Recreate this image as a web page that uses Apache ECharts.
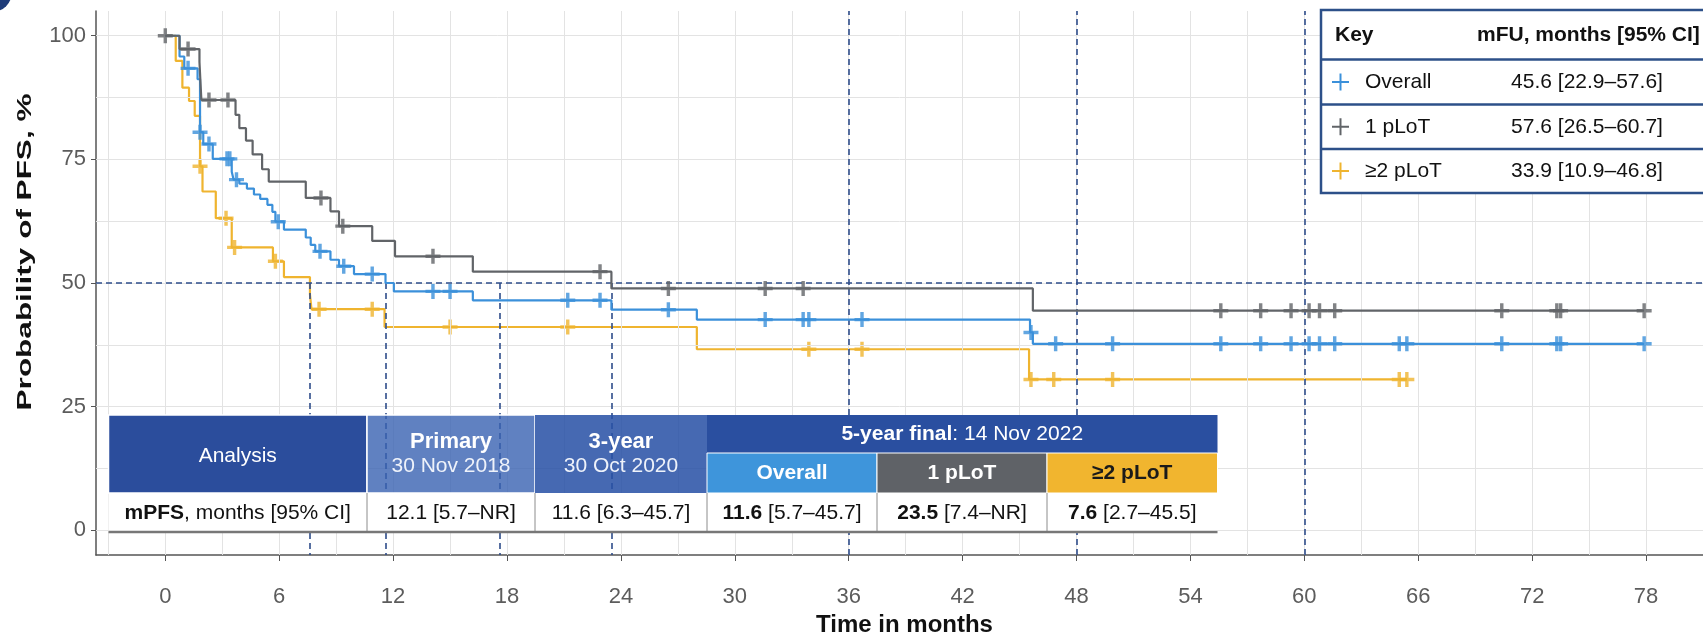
<!DOCTYPE html>
<html><head><meta charset="utf-8">
<script src="https://cdn.jsdelivr.net/npm/echarts@6/dist/echarts.min.js"></script>
<style>html,body{margin:0;padding:0;background:#fff}#c{width:1703px;height:642px}</style>
</head><body><div id="c"></div>
<script>
// ---------------- DATA ----------------
const xTicks = [0, 6, 12, 18, 24, 30, 36, 42, 48, 54, 60, 66, 72, 78];
const yTicks = [0, 25, 50, 75, 100];

// 1 pLoT (grey)
const grayTimes = [0, 0.75, 1.8, 1.9, 3.7, 3.9, 4.25, 4.6, 5.1, 5.45, 7.4, 8.7, 9.15, 10.9, 12.1, 16.2, 23.5, 45.7];
const graySurv  = [100, 97.3, 94.7, 87.0, 84.0, 81.3, 78.8, 76.0, 73.0, 70.5, 67.2, 64.5, 61.5, 58.5, 55.4, 52.3, 48.9, 44.4];
const grayCensor = [0, 1.2, 2.3, 3.3, 8.2, 9.35, 14.1, 22.9, 26.5, 31.6, 33.6, 55.6, 57.7, 59.3, 60.25, 60.8, 61.6, 70.4, 73.3, 73.5, 77.9];

// Overall (blue)
const blueTimes = [0, 0.75, 1.0, 1.7, 1.83, 2.0, 2.5, 3.5, 3.6, 3.9, 4.3, 4.67, 5.0, 5.38, 5.64, 5.8, 6.25, 7.4, 7.66, 7.9, 8.7, 9.15, 9.94, 11.6, 12.04, 16.2, 23.5, 28.0, 45.55, 45.7];
const blueSurv  = [100, 95.8, 93.4, 91.2, 80.5, 78.1, 75.1, 72.5, 70.9, 70.1, 69.1, 67.9, 67.0, 65.8, 64.4, 62.4, 60.8, 59.2, 57.7, 56.4, 54.7, 53.4, 51.8, 50.0, 48.3, 46.5, 44.6, 42.6, 40.0, 37.7];
const blueCensor = [1.2, 1.83, 2.3, 3.25, 3.4, 3.75, 5.95, 8.15, 9.4, 10.9, 14.1, 15.0, 21.2, 22.9, 26.5, 31.6, 33.6, 33.9, 36.7, 45.6, 46.9, 49.9, 55.6, 57.7, 59.3, 60.25, 60.8, 61.6, 65.0, 65.4, 70.4, 73.3, 73.5, 77.9];

// >=2 pLoT (yellow)
const yellowTimes = [0, 0.55, 0.9, 1.25, 1.55, 1.83, 1.96, 2.66, 3.5, 5.67, 6.25, 7.62, 7.7, 11.55, 28.0, 45.5];
const yellowSurv  = [100, 94.9, 89.5, 86.8, 83.8, 73.6, 68.5, 63.1, 57.2, 54.4, 51.2, 47.7, 44.7, 41.1, 36.6, 30.5];
const yellowCensor = [1.83, 3.2, 3.65, 5.8, 8.1, 10.9, 15.0, 21.2, 33.9, 36.7, 45.6, 46.8, 49.9, 65.0, 65.4];

// reference lines
const refY = [50];
const refX = [36, 48, 60];
const medianX = [7.6, 11.6, 17.6, 23.5];

// legend
const legendNames = ['Overall', '1 pLoT', '\u22652 pLoT'];
const legendMFU = ['45.6 [22.9\u201357.6]', '57.6 [26.5\u201360.7]', '33.9 [10.9\u201346.8]'];

// table
const tableDataRow = ['{b|mPFS}, months [95% CI]', '12.1 [5.7\u2013NR]', '11.6 [6.3\u201345.7]', '{b|11.6} [5.7\u201345.7]', '{b|23.5} [7.4\u2013NR]', '{b|7.6} [2.7\u201345.5]'];

// ---------------- STYLE ----------------
const FONT = '"Liberation Sans", Arial, Helvetica, sans-serif';
const C_GRAY = '#616468', C_BLUE = '#3b90da', C_YEL = '#efb42f';
const DASH = '#2e4d8a';
const PLUS = 'path://M-1.6,-7H1.6V-1.6H7V1.6H1.6V7H-1.6V1.6H-7V-1.6H-1.6Z';

function survAt(times, surv, t) {
  let s = surv[0];
  for (let i = 0; i < times.length; i++) if (times[i] <= t + 1e-9) s = surv[i];
  return s;
}
function kmLine(times, surv, cens) {
  const d = times.map((t, i) => [t, surv[i]]);
  const last = Math.max(...cens);
  if (last > times[times.length - 1]) d.push([last, surv[surv.length - 1]]);
  return d;
}
function censPts(times, surv, cens) { return cens.map(t => [t, survAt(times, surv, t)]); }

// grid lines (every 3 months / 12.5 %)
const xGrid = []; for (let v = -3; v <= 81; v += 3) xGrid.push(v);
const yGrid = []; for (let v = 0; v <= 100; v += 12.5) yGrid.push(v);

const chart = echarts.init(document.getElementById('c'), null, {renderer: 'canvas'});

// ---------------- TABLE GRAPHIC ----------------
const cols = [108.5, 367, 535, 707, 877, 1047, 1217.5];
const rows = [415, 453, 493, 532];
const G = [];
function rect(x0, y0, x1, y1, fill, stroke, lw) {
  G.push({type: 'rect', z: 100, shape: {x: x0, y: y0, width: x1 - x0, height: y1 - y0},
    style: {fill: fill, stroke: stroke || null, lineWidth: lw || 0}});
}
function txt(x, y, text, o) {
  o = o || {};
  const fs = o.fontSize || 21;
  G.push({type: 'text', z: 101, x: x, y: y, rotation: o.rotation || 0, scaleX: o.scaleX || 1,
    style: {
    text: text, x: 0, y: 0, align: o.align || 'center', verticalAlign: 'middle',
    fill: o.fill || '#111', fontSize: fs, fontFamily: FONT, fontWeight: o.bold ? 'bold' : 'normal',
    lineHeight: o.lineHeight || fs + 2,
    rich: {b: {fontWeight: 'bold', fontSize: o.bFontSize || fs, fontFamily: FONT, fill: o.bFill || o.fill || '#111', lineHeight: o.lineHeight || fs + 2}}
  }});
}
function line(x0, y0, x1, y1, stroke, lw) {
  G.push({type: 'line', z: 101, shape: {x1: x0, y1: y0, x2: x1, y2: y1}, style: {stroke: stroke, lineWidth: lw}});
}
// header
rect(cols[0], rows[0], cols[1], rows[2], '#2b4d9c', '#fff', 1.5);
rect(cols[1], rows[0], cols[2], rows[2], 'rgba(56,98,178,0.80)', '#fff', 1.5);
rect(cols[2], rows[0], cols[3], rows[2], 'rgba(40,80,165,0.86)', null, 0);
rect(cols[3], rows[0], cols[6], rows[1], '#2a4fa0', null, 0);
rect(cols[3], rows[1], cols[4], rows[2], '#3e95db', '#fff', 1);
rect(cols[4], rows[1], cols[5], rows[2], '#5f6267', '#fff', 1);
rect(cols[5], rows[1], cols[6], rows[2], '#f1b52f', '#fff', 1);
const mid = (a, b) => (a + b) / 2;
txt(mid(cols[0], cols[1]), mid(rows[0], rows[2]) + 2, 'Analysis', {fill: '#fff'});
txt(mid(cols[1], cols[2]), mid(rows[0], rows[2]), '{b|Primary}\n30 Nov 2018', {fill: '#eef2fa', bFill: '#fff', lineHeight: 25, bFontSize: 22});
txt(mid(cols[2], cols[3]), mid(rows[0], rows[2]), '{b|3-year}\n30 Oct 2020', {fill: '#eef2fa', bFill: '#fff', lineHeight: 25, bFontSize: 22});
txt(mid(cols[3], cols[6]), mid(rows[0], rows[1]), '{b|5-year final}: 14 Nov 2022', {fill: '#fff'});
txt(mid(cols[3], cols[4]), mid(rows[1], rows[2]), 'Overall', {fill: '#fff', bold: true});
txt(mid(cols[4], cols[5]), mid(rows[1], rows[2]), '1 pLoT', {fill: '#fff', bold: true});
txt(mid(cols[5], cols[6]), mid(rows[1], rows[2]), '\u22652 pLoT', {fill: '#1a1a1a', bold: true});
// data row
rect(cols[0], rows[2], cols[6], rows[3], '#ffffff', null, 0);
for (let i = 1; i < 6; i++) line(cols[i], rows[2], cols[i], rows[3], '#8c8c8c', 1);
line(cols[0], rows[3], cols[6], rows[3], '#777', 2.5);
tableDataRow.forEach((t, i) => txt(mid(cols[i], cols[i + 1]), mid(rows[2], rows[3]) + 1, t, {fill: '#111'}));

// legend box
const LX = 1321, LY = 10, LR = [10, 59.5, 104.5, 149, 193];
rect(LX, LY, 1760, LR[4], '#fff', '#2d5089', 2.5);
for (let i = 1; i < 4; i++) line(LX, LR[i], 1703, LR[i], '#2d5089', 2.5);
txt(1335, mid(LR[0], LR[1]), 'Key', {align: 'left', bold: true});
txt(1477, mid(LR[0], LR[1]), 'mFU, months [95% CI]', {align: 'left', bold: true});
const legCols = [C_BLUE, C_GRAY, C_YEL];
legendNames.forEach((n, i) => {
  const cy = mid(LR[i + 1], LR[i + 2]);
  line(1332, cy, 1349, cy, legCols[i], 2);
  line(1340.5, cy - 8.5, 1340.5, cy + 8.5, legCols[i], 2);
  txt(1365, cy, n, {align: 'left'});
  txt(1587, cy, legendMFU[i], {});
});
// y-axis title (stretched along its length like the reference)
txt(25, 252, 'Probability of PFS, %', {bold: true, fontSize: 21, rotation: Math.PI / 2, scaleX: 1.5, fill: '#111'});
// corner decoration
G.push({type: 'circle', z: 100, shape: {cx: -8, cy: -8, r: 20}, style: {fill: '#1f3d7a'}});

// ---------------- OPTION ----------------
const option = {
  animation: false,
  backgroundColor: '#ffffff',
  grid: {left: 96, right: 0, top: 11, bottom: 83, containLabel: false},
  xAxis: {
    type: 'value', min: -3.65, max: 81,
    axisLine: {show: true, onZero: false, lineStyle: {color: '#555', width: 1.5}},
    axisTick: {show: true, customValues: xTicks, length: 6, lineStyle: {color: '#555', width: 1}},
    axisLabel: {customValues: xTicks, color: '#5c5c5c', fontSize: 22, margin: 31, fontFamily: FONT},
    splitLine: {show: false},
    name: 'Time in months', nameLocation: 'middle', nameGap: 58,
    nameTextStyle: {fontWeight: 'bold', fontSize: 24, color: '#111', fontFamily: FONT, padding: [0, 0, 0, 10]}
  },
  yAxis: {
    type: 'value', min: -5, max: 105,
    axisLine: {show: true, onZero: false, lineStyle: {color: '#555', width: 1.5}},
    axisTick: {show: true, customValues: yTicks, length: 5, lineStyle: {color: '#555', width: 1}},
    axisLabel: {customValues: yTicks, color: '#5c5c5c', fontSize: 22, margin: 10, fontFamily: FONT},
    splitLine: {show: false}
  },
  series: [
    {type: 'line', data: [], silent: true, z: 1,
     markLine: {silent: true, symbol: ['none', 'none'], label: {show: false}, animation: false,
       lineStyle: {color: '#e3e3e3', width: 1, type: 'solid'},
       data: xGrid.map(v => ({xAxis: v})).concat(yGrid.map(v => ({yAxis: v})))}},
    {type: 'line', data: [], silent: true, z: 3,
     markLine: {silent: true, symbol: ['none', 'none'], label: {show: false}, animation: false,
       lineStyle: {color: DASH, width: 1.6, type: [6, 4]},
       data: refY.map(v => ({yAxis: v}))
         .concat(refX.map(v => ({xAxis: v})))
         .concat(medianX.map(v => [{coord: [v, 50]}, {coord: [v, -5]}]))}},
    {name: '\u22652 pLoT', type: 'line', step: 'end', showSymbol: false, symbol: 'none', z: 4,
     lineStyle: {color: C_YEL, width: 2.2}, data: kmLine(yellowTimes, yellowSurv, yellowCensor)},
    {type: 'scatter', symbol: PLUS, symbolSize: 15, z: 4, itemStyle: {color: C_YEL},
     data: censPts(yellowTimes, yellowSurv, yellowCensor)},
    {name: 'Overall', type: 'line', step: 'end', showSymbol: false, symbol: 'none', z: 5,
     lineStyle: {color: C_BLUE, width: 2.2}, data: kmLine(blueTimes, blueSurv, blueCensor)},
    {type: 'scatter', symbol: PLUS, symbolSize: 15, z: 5, itemStyle: {color: C_BLUE},
     data: censPts(blueTimes, blueSurv, blueCensor)},
    {name: '1 pLoT', type: 'line', step: 'end', showSymbol: false, symbol: 'none', z: 6,
     lineStyle: {color: C_GRAY, width: 2.2}, data: kmLine(grayTimes, graySurv, grayCensor)},
    {type: 'scatter', symbol: PLUS, symbolSize: 15, z: 6, itemStyle: {color: C_GRAY},
     data: censPts(grayTimes, graySurv, grayCensor)}
  ],
  graphic: {elements: G}
};
chart.setOption(option);
</script></body></html>
